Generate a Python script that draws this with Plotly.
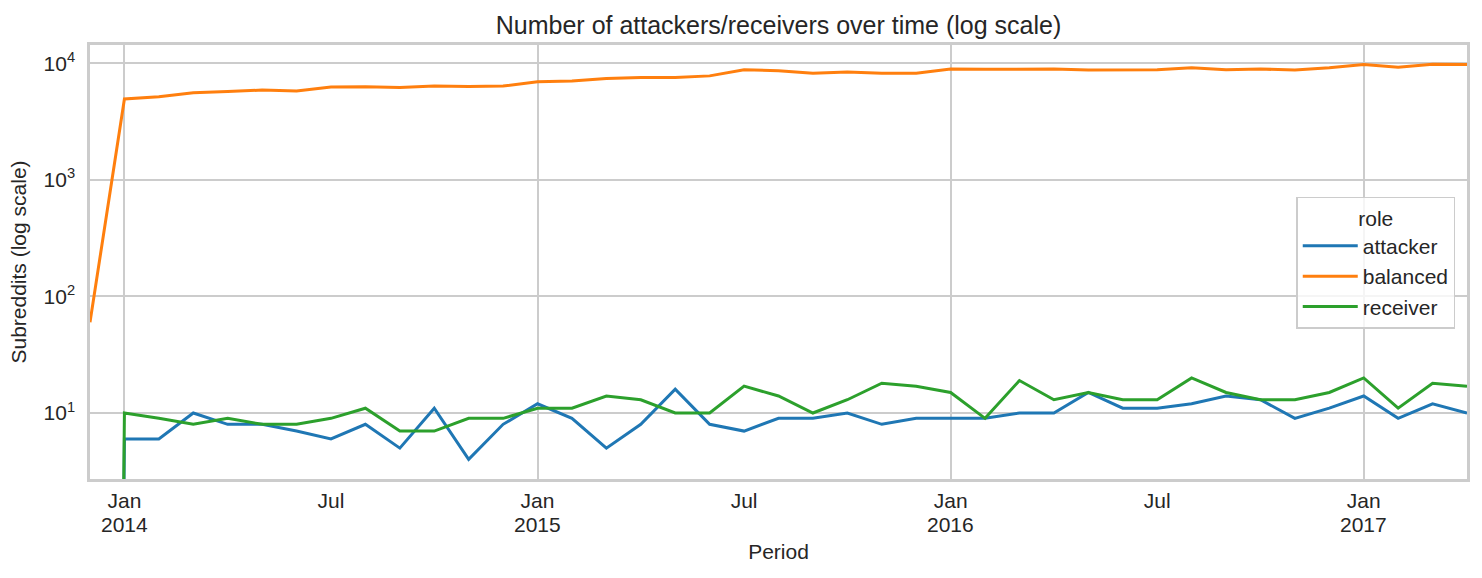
import pandas as pd
import plotly.graph_objects as go

# ---- data (monthly periods, Dec 2013 .. Apr 2017) ----
periods = [str(p) for p in pd.period_range("2013-12", "2017-04", freq="M")]

attacker = [0,
            6, 6, 10, 8, 8, 7, 6, 8, 5, 11, 4, 8,
            12, 9, 5, 8, 16, 8, 7, 9, 9, 10, 8, 9,
            9, 9, 10, 10, 15, 11, 11, 12, 14, 13, 9, 11,
            14, 9, 12, 10]

balanced = [60,
            4950, 5170, 5600, 5720, 5900, 5800, 6250, 6300, 6200, 6400, 6320, 6380,
            6930, 7040, 7420, 7550, 7570, 7800, 8820, 8650, 8230, 8420, 8200, 8230,
            8920, 8870, 8860, 8920, 8760, 8810, 8800, 9150, 8820, 8930, 8750, 9150,
            9780, 9270, 9800, 9780]

receiver = [0,
            10, 9, 8, 9, 8, 8, 9, 11, 7, 7, 9, 9,
            11, 11, 14, 13, 10, 10, 17, 14, 10, 13, 18, 17,
            15, 9, 19, 13, 15, 13, 13, 20, 15, 13, 13, 15,
            20, 11, 18, 17]

tick_periods = ["2014-01", "2014-07", "2015-01", "2015-07", "2016-01", "2016-07", "2017-01"]
tick_labels = ["Jan", "Jul", "Jan", "Jul", "Jan", "Jul", "Jan"]
year_periods = ["2014-01", "2015-01", "2016-01", "2017-01"]
year_labels = ["2014", "2015", "2016", "2017"]
grid_periods = ["2014-01", "2015-01", "2016-01", "2017-01"]
y_ticks = [10, 100, 1000, 10000]
y_tick_labels = ["10<sup>1</sup>", "10<sup>2</sup>", "10<sup>3</sup>", "10<sup>4</sup>"]

series = [("attacker", attacker, "#1f77b4"),
          ("balanced", balanced, "#ff7f0e"),
          ("receiver", receiver, "#2ca02c")]

# ---- helpers ----
def month_pos(s):
    return pd.Period(s, freq="M").ordinal

CLIP = 1e-30  # non-positive values clipped like matplotlib's log scale


def clip(vals):
    return [v if v > 0 else CLIP for v in vals]


x = [month_pos(p) for p in periods]

FONT = "Liberation Sans, Arial, sans-serif"
TXT = "#262626"
GRID = "#cccccc"

fig = go.Figure()
for name, vals, color in series:
    fig.add_trace(go.Scatter(x=x, y=clip(vals), mode="lines", name=name,
                             line=dict(color=color, width=3)))

# year labels under the January ticks (second line of the tick label)
for p, lab in zip(year_periods, year_labels):
    fig.add_annotation(x=month_pos(p), xref="x", y=-0.104, yref="paper",
                       text=lab, showarrow=False, xanchor="center", yanchor="middle",
                       font=dict(size=21, color=TXT, family=FONT))

fig.update_layout(
    width=1482, height=578,
    margin=dict(l=90, r=15, t=45, b=99),
    paper_bgcolor="white", plot_bgcolor="white",
    font=dict(family=FONT, color=TXT, size=21),
    title=dict(text="Number of attackers/receivers over time (log scale)",
               font=dict(size=25, color=TXT, family=FONT),
               x=0.5, xref="paper", xanchor="center",
               y=1 - 25 / 578, yref="container", yanchor="middle"),
    legend=dict(title=dict(text="role", side="top center", font=dict(size=21)),
                x=0.876, y=0.65, xanchor="left", yanchor="top",
                bgcolor="rgba(255,255,255,0.8)", bordercolor=GRID, borderwidth=1.5,
                itemwidth=55, tracegroupgap=0,
                font=dict(size=21, color=TXT)),
    showlegend=True,
)

fig.update_xaxes(
    range=[x[0], x[-1]],
    tickmode="array", tickvals=[month_pos(p) for p in tick_periods], ticktext=tick_labels,
    showgrid=False, ticks="", ticklabelstandoff=1,
    minor=dict(tickmode="array", tickvals=[month_pos(p) for p in grid_periods],
               showgrid=True, gridcolor=GRID, gridwidth=2, ticks=""),
    showline=True, mirror=True, linecolor=GRID, linewidth=2.5,
    zeroline=False,
    title=dict(text="Period", font=dict(size=21), standoff=34),
    tickfont=dict(size=21),
)

fig.update_yaxes(
    type="log", range=[0.434, 4.157],
    tickmode="array", tickvals=y_ticks, ticktext=y_tick_labels,
    showgrid=True, gridcolor=GRID, gridwidth=2, ticks="", ticklabelstandoff=8,
    showline=True, mirror=True, linecolor=GRID, linewidth=2.5,
    zeroline=False,
    title=dict(text="Subreddits (log scale)", font=dict(size=21), standoff=12),
    tickfont=dict(size=21),
)

fig.write_html("out.html")
